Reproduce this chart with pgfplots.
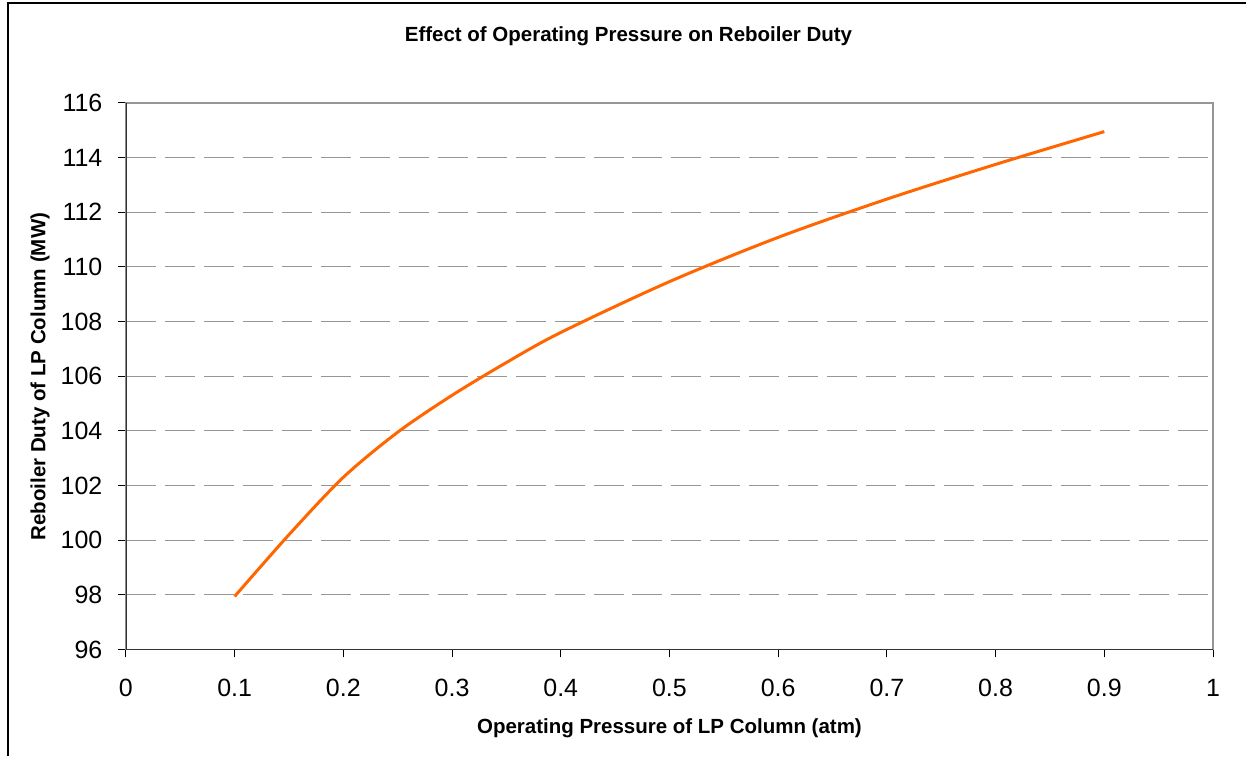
\documentclass[border=0pt]{standalone}
\usepackage{pgfplots}
\pgfplotsset{compat=1.18}
\usepackage{fontspec}
\setmainfont{Liberation Sans}
\definecolor{curve}{RGB}{255,102,0}
\definecolor{gridgray}{RGB}{150,150,150}
\begin{document}
\begin{tikzpicture}[x=1pt,y=1pt]
\path (0,0) rectangle (1247,757);
\draw[line width=2pt] (8,0) -- (8,754) -- (1247,754);
\begin{axis}[at={(126pt,107pt)}, anchor=south west, scale only axis,
  width=1088pt, height=547pt,
  xmin=0, xmax=1, ymin=96, ymax=116,
  xtick={0,0.1,0.2,0.3,0.4,0.5,0.6,0.7,0.8,0.9,1},
  ytick={96,98,100,102,104,106,108,110,112,114,116},
  xticklabels={0,0.1,0.2,0.3,0.4,0.5,0.6,0.7,0.8,0.9,1},
  xtick pos=bottom, ytick pos=left,
  tick align=outside, major tick length=8pt,
  tick style={black, line width=1pt},
  axis line style={gridgray, line width=1.5pt},
  ymajorgrids, grid style={gridgray, line width=1.2pt, dash pattern=on 30pt off 9pt},
  tick label style={font=\fontsize{25}{25}\selectfont},
  /pgf/number format/assume math mode=true,
  yticklabel style={xshift=-12pt},
  xticklabel style={yshift=-18pt},
]
\addplot[curve, line width=3pt, smooth, tension=0.5] coordinates {
(0.1,97.94) (0.15,100.2) (0.2,102.3) (0.25,103.95) (0.3,105.3) (0.35,106.5)
(0.4,107.6) (0.5,109.46) (0.6,111.08) (0.7,112.48) (0.8,113.75) (0.9,114.95)
};
\draw[black!80, line width=1.5pt] (rel axis cs:0,1) -- (rel axis cs:0,0) -- (rel axis cs:1,0);
\end{axis}
\node[font=\bfseries\fontsize{20.5}{20.5}\selectfont] at (629,721) {Effect of Operating Pressure on Reboiler Duty};
\node[font=\bfseries\fontsize{20.5}{20.5}\selectfont] at (670,28) {Operating Pressure of LP Column (atm)};
\node[font=\bfseries\fontsize{20.5}{20.5}\selectfont, rotate=90] at (40,380) {Reboiler Duty of LP Column (MW)};
\end{tikzpicture}
\end{document}
